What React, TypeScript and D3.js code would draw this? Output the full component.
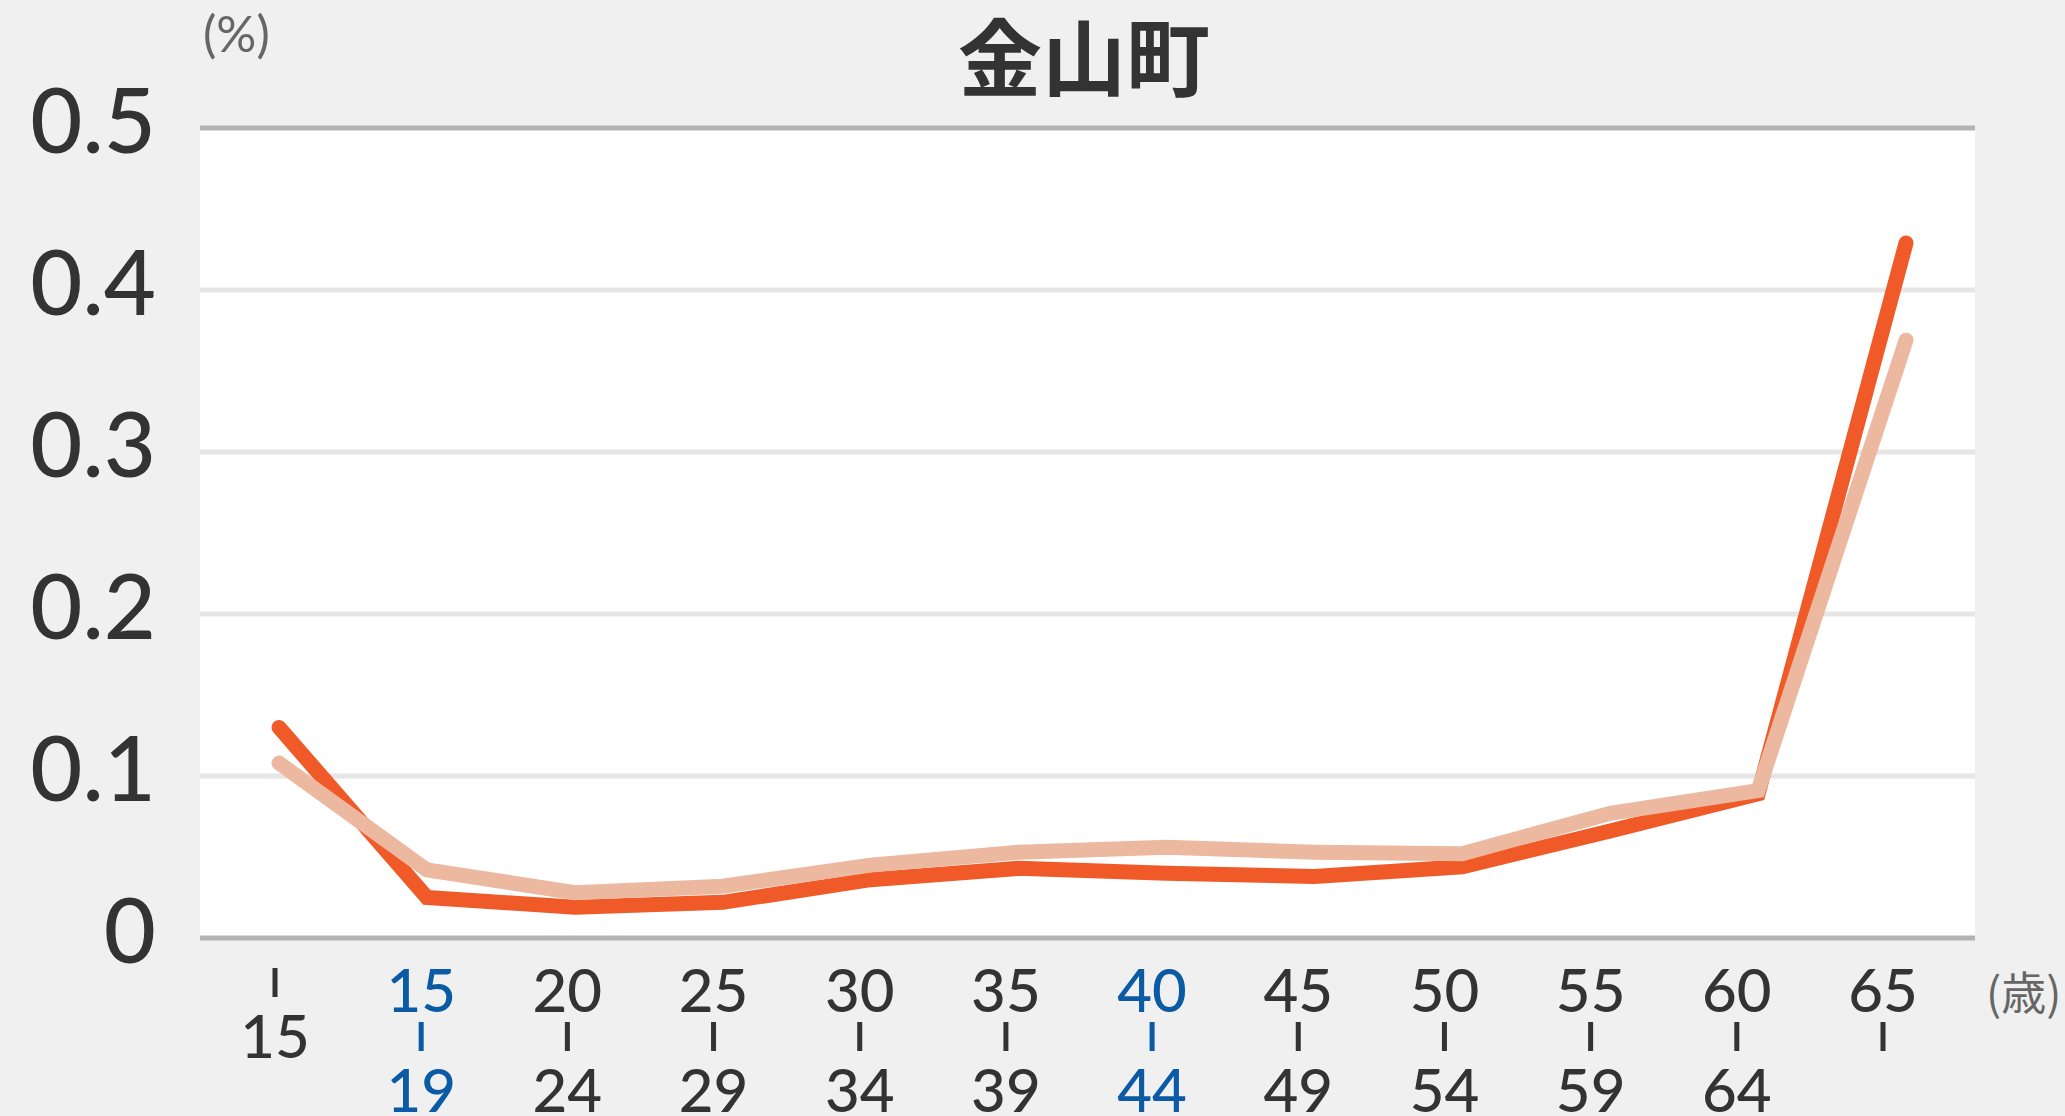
import * as d3 from 'd3'

// age groups, drawn as three stacked rows under each point
const ageTop = ['|', '15', '20', '25', '30', '35', '40', '45', '50', '55', '60', '65']
const ageMid = ['15', '|', '|', '|', '|', '|', '|', '|', '|', '|', '|', '|']
const ageBottom = ['', '19', '24', '29', '34', '39', '44', '49', '54', '59', '64', '']
const highlighted = [1, 6]

const seriesDark = [0.13, 0.025, 0.019, 0.022, 0.036, 0.043, 0.04, 0.038, 0.044, 0.066, 0.089, 0.429]
const seriesLight = [0.108, 0.042, 0.028, 0.032, 0.045, 0.053, 0.056, 0.053, 0.052, 0.077, 0.091, 0.369]

const yTicks = [0, 0.1, 0.2, 0.3, 0.4, 0.5]

const W = 2065
const H = 1116
const plotLeft = 200
const plotRight = 1975
const plotTop = 128
const plotBottom = 938

const numFont = 'Lato, "Noto Sans", sans-serif'

export default function App() {
  const idx = ageTop.map((_, i) => i)

  const x = d3.scalePoint<number>().domain(idx).range([279, 1906])
  const xLabel = d3.scalePoint<number>().domain(idx).range([275, 1883])
  const y = d3.scaleLinear().domain([0, 0.5]).range([plotBottom, plotTop])

  const line = d3
    .line<number>()
    .x((_, i) => x(i)!)
    .y((d) => y(d))

  const labelColor = (i: number) => (highlighted.includes(i) ? '#0a5aa5' : '#333333')

  return (
    <div style={{ position: 'absolute', left: 0, top: 0, width: W, height: H }}>
      <svg width={W} height={H} viewBox={`0 0 ${W} ${H}`} style={{ display: 'block' }}>
        <rect width={W} height={H} fill="#f0f0f0" />
        <rect
          x={plotLeft}
          y={plotTop}
          width={plotRight - plotLeft}
          height={plotBottom - plotTop}
          fill="#ffffff"
        />

        {/* grid */}
        {yTicks.map((t) => (
          <line
            key={t}
            x1={plotLeft}
            x2={plotRight}
            y1={y(t)}
            y2={y(t)}
            stroke={t === 0 || t === 0.5 ? '#b3b3b3' : '#e6e6e6'}
            strokeWidth={5}
          />
        ))}

        {/* y labels */}
        {yTicks.map((t) => (
          <text
            key={'l' + t}
            x={156}
            y={y(t) + 25}
            textAnchor="end"
            fontFamily={numFont}
            fontWeight={500}
            fontSize={90}
            fill="#333333"
          >
            {t === 0 ? '0' : t.toFixed(1)}
          </text>
        ))}

        <text x={203} y={52} fontFamily={numFont} fontSize={50} fill="#666666">
          (%)
        </text>

        <text
          x={1084}
          y={90}
          textAnchor="middle"
          fontFamily='"Noto Sans CJK JP", sans-serif'
          fontWeight={700}
          fontSize={84}
          fill="#333333"
        >
          金山町
        </text>

        {/* lines */}
        <path
          d={line(seriesDark)!}
          fill="none"
          stroke="#f05a28"
          strokeWidth={15}
          strokeLinecap="round"
          strokeLinejoin="miter"
        />
        <path
          d={line(seriesLight)!}
          fill="none"
          stroke="#ecb8a0"
          strokeWidth={15}
          strokeLinecap="round"
          strokeLinejoin="miter"
        />

        {/* x labels */}
        {idx.map((i) => {
          const cx = xLabel(i)!
          const c = labelColor(i)
          const bar = (top: number) => (
            <rect x={cx - 2.5} y={top} width={5} height={29} fill={c} />
          )
          if (i === 0) {
            return (
              <g key={i}>
                {bar(968)}
                <text x={cx} y={1058} textAnchor="middle" fontFamily={numFont} fontWeight={500} fontSize={60} fill={c}>
                  {ageMid[i]}
                </text>
              </g>
            )
          }
          return (
            <g key={i}>
              <text x={cx} y={1012} textAnchor="middle" fontFamily={numFont} fontWeight={500} fontSize={60} fill={c}>
                {ageTop[i]}
              </text>
              {ageMid[i] === '|' ? bar(1022) : null}
              <text x={cx} y={1112} textAnchor="middle" fontFamily={numFont} fontWeight={500} fontSize={60} fill={c}>
                {ageBottom[i]}
              </text>
            </g>
          )
        })}

        <text x={1986} y={1010} fontFamily='"Noto Sans CJK JP", sans-serif' fontSize={45} fill="#666666">
          (歳)
        </text>
      </svg>
    </div>
  )
}
